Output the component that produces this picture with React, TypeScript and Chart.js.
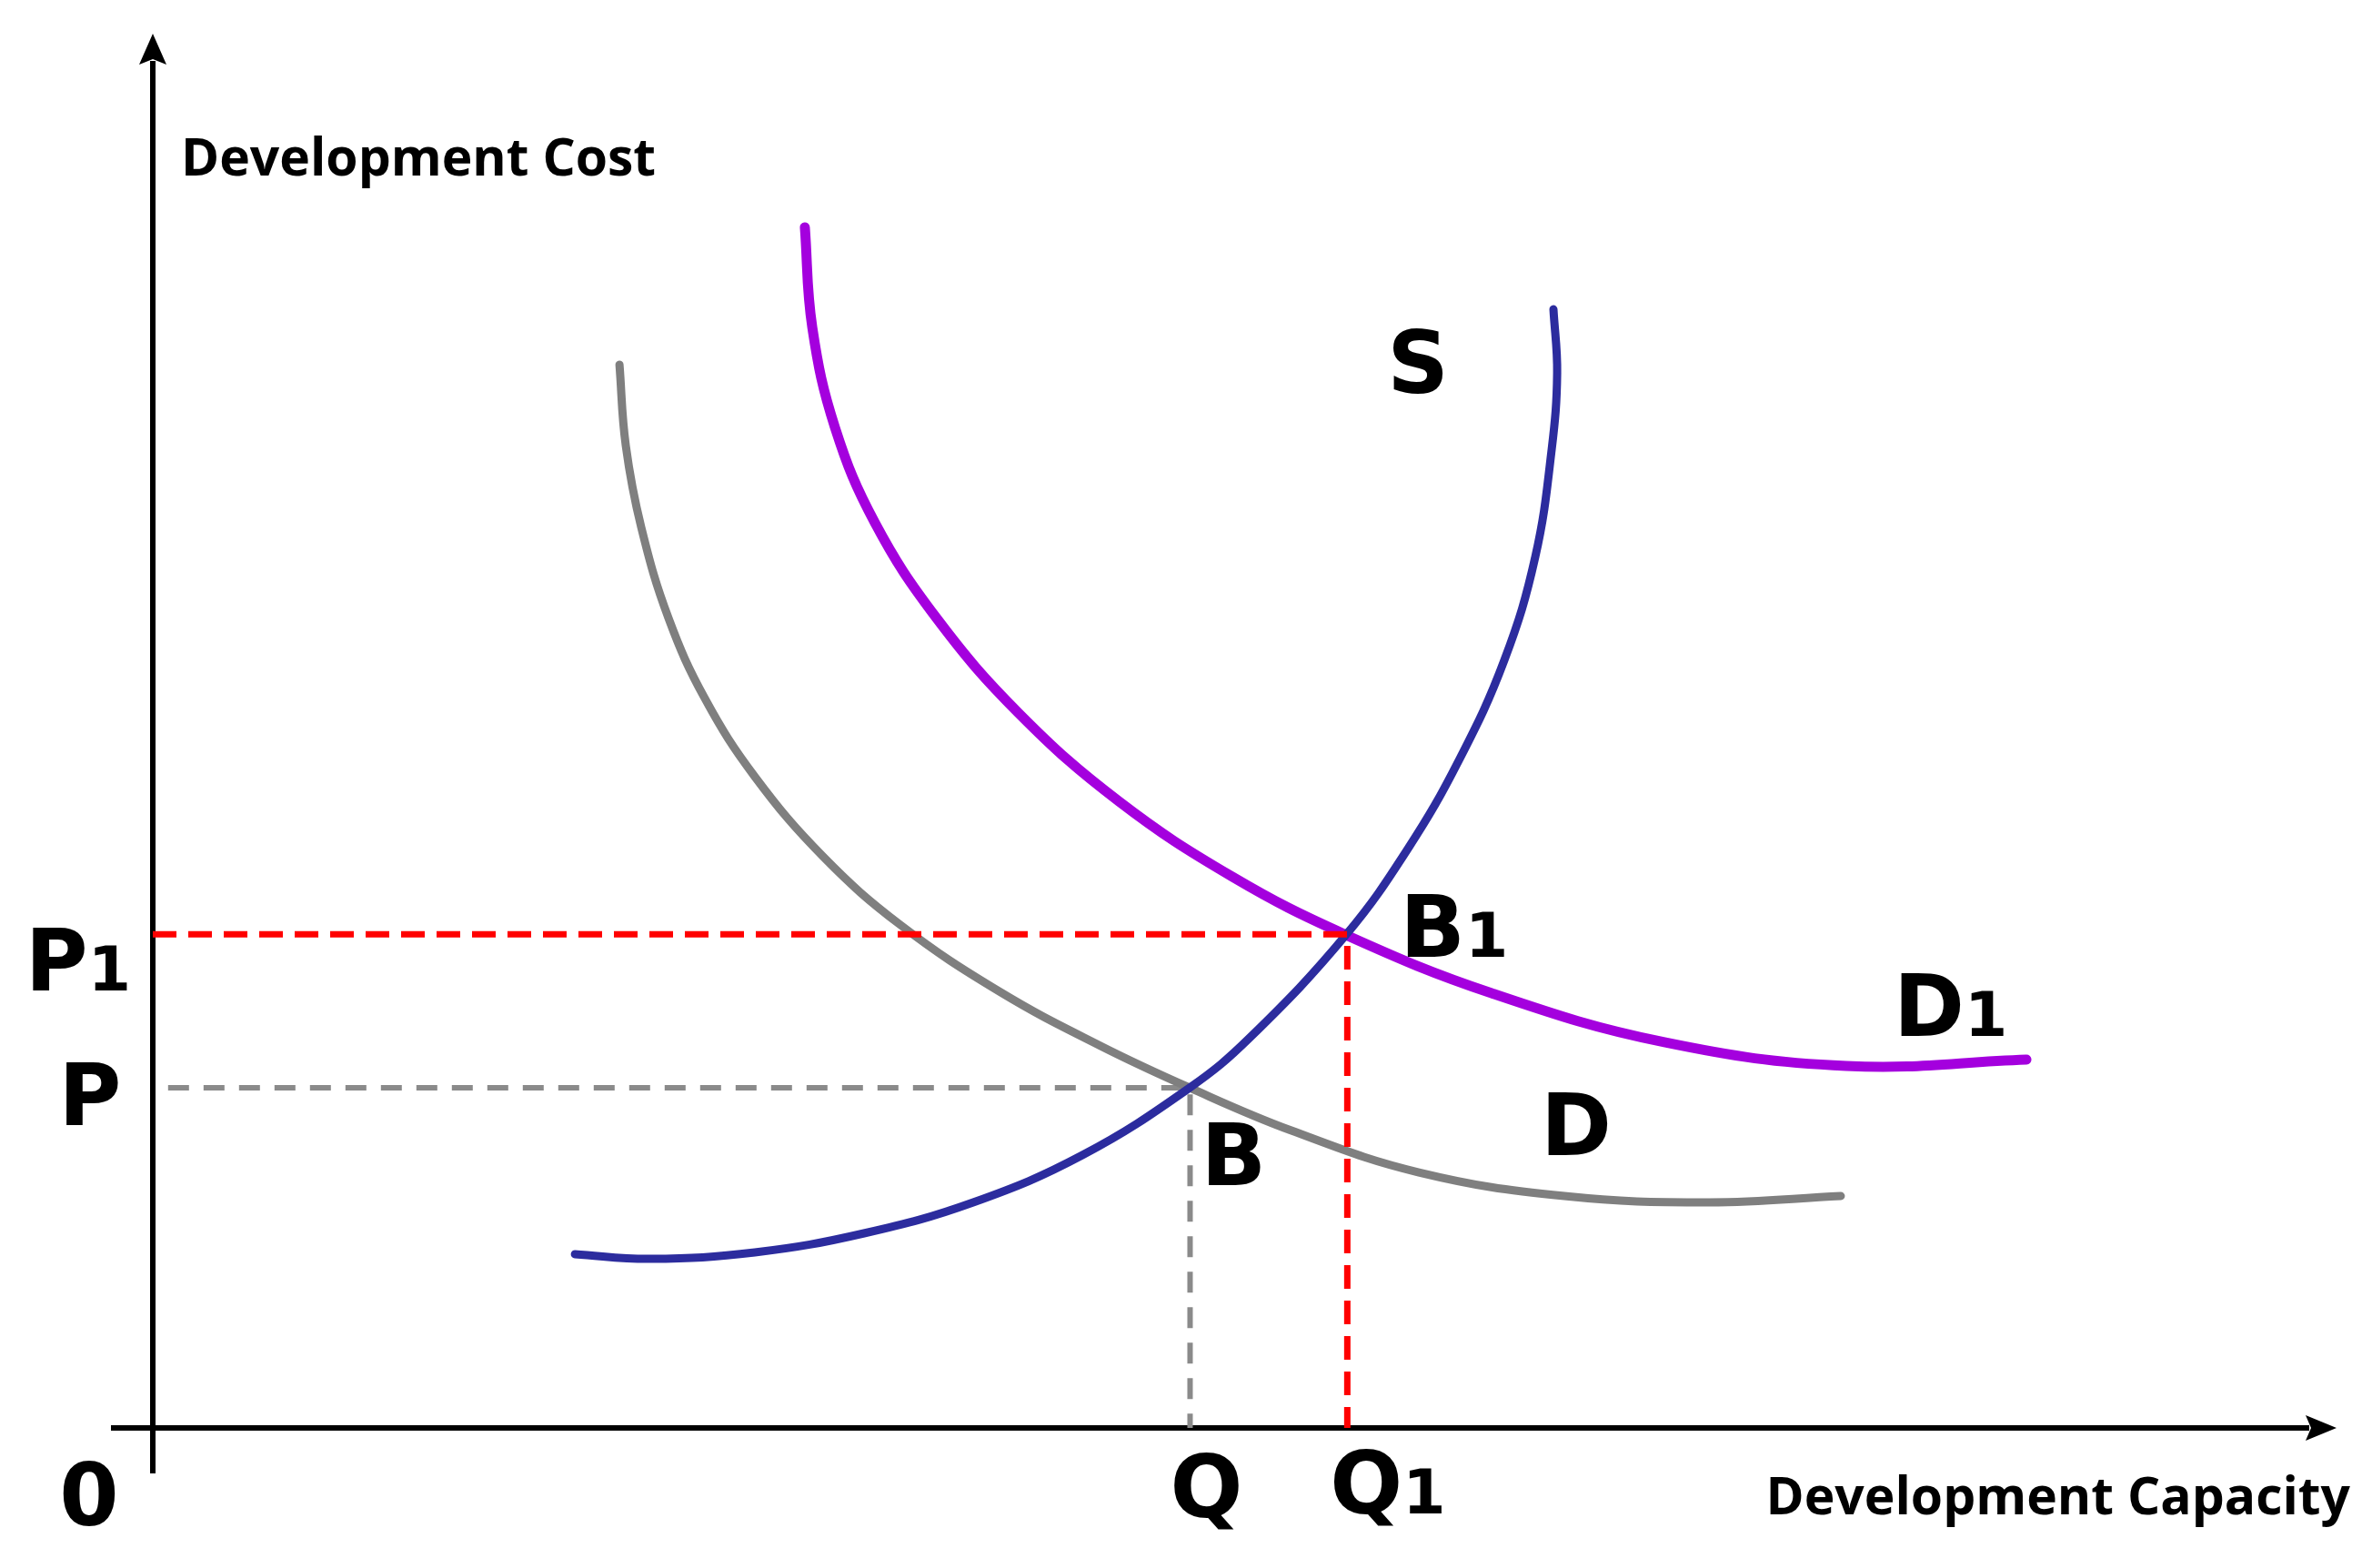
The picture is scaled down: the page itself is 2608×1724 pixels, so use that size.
import React, { useEffect, useRef } from "react";
import { Chart, registerables } from "chart.js";

Chart.register(...registerables);

const CANVAS_W = 2608;
const CANVAS_H = 1724;

// Supply curve S  (x: Development Capacity, y: Development Cost)
const supplyX = [19.33, 22.78, 27.57, 32.57, 37.57, 42.57, 47.48, 50.23, 54.64, 57.48, 59.81, 61.89, 63.31, 64.06, 64.31, 64.14];
const supplyY = [12.46, 12.13, 12.59, 13.96, 16.18, 19.57, 24.4, 27.98, 35.36, 41.55, 47.88, 55.06, 62.49, 70.19, 75.67, 80.23];

// Demand curve D
const demandX = [21.37, 21.66, 22.37, 23.62, 25.28, 27.57, 30.7, 34.24, 38.82, 43.4, 47.48, 52.14, 57.98, 64.64, 71.3, 77.3];
const demandY = [76.26, 70.45, 64.58, 58.06, 52.32, 46.71, 40.97, 36.07, 31.25, 27.4, 24.4, 21.33, 18.33, 16.63, 16.18, 16.63];

// Shifted demand curve D1
const demand1X = [29.86, 30.2, 31.24, 33.07, 35.9, 39.65, 44.23, 49.44, 54.64, 61.31, 69.22, 77.55, 85.8];
const demand1Y = [86.11, 78.93, 71.75, 64.91, 58.06, 51.27, 44.95, 39.53, 35.36, 31.18, 27.66, 25.96, 26.42];

// Equilibria
const eqQ = 47.5;
const eqP = 24.4;
const eqQ1 = 54.7;
const eqP1 = 35.4;

// Text
const yAxisTitle = "Development Cost";
const xAxisTitle = "Development Capacity";
const curveLabels = ["S", "D", "D", "1"];

const BIG = 'bold 94px "DejaVu Sans"';
const SUB = 'bold 68px "DejaVu Sans"';
const TITLE = 'bold 57px "Open Sans"';

const zip = (xs: number[], ys: number[]) => xs.map((x, i) => ({ x, y: ys[i] }));

function put(ctx: CanvasRenderingContext2D, main: string, sub: string, x: number, base: number, align: string) {
  ctx.font = BIG;
  const w1 = ctx.measureText(main).width;
  ctx.font = SUB;
  const w2 = sub ? ctx.measureText(sub).width : 0;
  const total = w1 + w2;
  const left = align === "center" ? x - total / 2 : align === "right" ? x - total : x;
  ctx.textAlign = "left";
  ctx.textBaseline = "alphabetic";
  ctx.font = BIG;
  ctx.fillText(main, left, base);
  if (sub) {
    ctx.font = SUB;
    ctx.fillText(sub, left + w1, base);
  }
}

const decorPlugin = {
  id: "decor",
  beforeDatasetsDraw(chart: any) {
    const { ctx } = chart;
    const xs = chart.scales.x;
    const ys = chart.scales.y;
    const x0 = xs.getPixelForValue(0);
    const y0 = ys.getPixelForValue(0);
    const xEnd = xs.getPixelForValue(100);
    const yEnd = ys.getPixelForValue(100);
    ctx.save();
    ctx.strokeStyle = "#000";
    ctx.fillStyle = "#000";
    ctx.lineWidth = 6;
    ctx.lineCap = "butt";
    ctx.beginPath();
    ctx.moveTo(x0, y0 + 50);
    ctx.lineTo(x0, yEnd + 30);
    ctx.stroke();
    ctx.beginPath();
    ctx.moveTo(x0 - 46, y0);
    ctx.lineTo(xEnd - 30, y0);
    ctx.stroke();
    // arrow heads
    ctx.beginPath();
    ctx.moveTo(x0, yEnd);
    ctx.lineTo(x0 - 15, yEnd + 34);
    ctx.lineTo(x0, yEnd + 28);
    ctx.lineTo(x0 + 15, yEnd + 34);
    ctx.closePath();
    ctx.fill();
    ctx.beginPath();
    ctx.moveTo(xEnd, y0);
    ctx.lineTo(xEnd - 34, y0 - 14);
    ctx.lineTo(xEnd - 28, y0);
    ctx.lineTo(xEnd - 34, y0 + 14);
    ctx.closePath();
    ctx.fill();
    ctx.restore();
  },
  afterDatasetsDraw(chart: any) {
    const { ctx } = chart;
    const xs = chart.scales.x;
    const ys = chart.scales.y;
    const px = (v: number) => xs.getPixelForValue(v);
    const py = (v: number) => ys.getPixelForValue(v);
    const x0 = px(0);
    const y0 = py(0);
    const xEnd = px(100);
    const yEnd = py(100);
    ctx.save();
    ctx.fillStyle = "#000";
    // axis titles
    ctx.font = TITLE;
    ctx.textBaseline = "alphabetic";
    ctx.textAlign = "left";
    ctx.fillText(yAxisTitle, x0 + 31, yEnd + 156);
    ctx.textAlign = "right";
    ctx.fillText(xAxisTitle, xEnd + 15, y0 + 95);

    // origin & tick-like labels
    put(ctx, "0", "", x0 - 70, y0 + 107, "center");
    put(ctx, "P", "1", x0 - 24, py(eqP1) + 62, "right");
    put(ctx, "P", "", x0 - 69, py(eqP) + 41, "center");
    put(ctx, "Q", "", px(eqQ) + 18, y0 + 98, "center");
    put(ctx, "Q", "1", px(eqQ1) - 19, y0 + 94, "left");
    // points
    put(ctx, "B", "", px(eqQ) + 12, py(eqP) + 107, "left");
    put(ctx, "B", "1", px(eqQ1) + 58, py(eqP1) + 25, "left");
    // curve labels
    const sN = supplyX.length - 1;
    put(ctx, curveLabels[0], "", px(supplyX[sN]) - 149, py(supplyY[sN]) + 92, "center");
    const dN = demandX.length - 1;
    put(ctx, curveLabels[1], "", px(demandX[dN]) - 330, py(demandY[dN]) - 45, "left");
    const d1N = demand1X.length - 1;
    put(ctx, curveLabels[2], curveLabels[3], px(demand1X[d1N]) - 146, py(demand1Y[d1N]) - 26, "left");
    ctx.restore();
  },
};

export default function App() {
  const ref = useRef<HTMLCanvasElement | null>(null);
  useEffect(() => {
    if (!ref.current) return;
    const curve = (label: string, xs: number[], ys: number[], color: string, width: number) => ({
      label,
      data: zip(xs, ys),
      showLine: true,
      borderColor: color,
      borderWidth: width,
      tension: 0.4,
      pointRadius: 0,
      borderCapStyle: "round",
      borderJoinStyle: "round",
      clip: false,
    });
    const chart = new Chart(ref.current, {
      type: "scatter",
      data: {
        datasets: [
          {
            label: "P1-Q1",
            data: [
              { x: 0, y: eqP1 },
              { x: eqQ1, y: eqP1 },
              { x: eqQ1, y: 0 },
            ],
            showLine: true,
            borderColor: "#ff0000",
            borderWidth: 7,
            borderDash: [26, 13],
            tension: 0,
            pointRadius: 0,
            clip: false,
          },
          curve("S", supplyX, supplyY, "#2c2c9e", 9),
          curve("D1", demand1X, demand1Y, "#a400de", 11),
          curve("D", demandX, demandY, "#7f7f7f", 9),
          {
            label: "P-Q",
            data: [
              { x: 0.7, y: eqP },
              { x: eqQ, y: eqP },
              { x: eqQ, y: 0 },
            ],
            showLine: true,
            borderColor: "#8a8a8a",
            borderWidth: 6,
            borderDash: [23, 16],
            tension: 0,
            pointRadius: 0,
            clip: false,
          },
        ],
      },
      options: {
        responsive: false,
        animation: false,
        events: [],
        layout: { padding: { left: 168, right: 39, top: 37, bottom: 154 } },
        scales: {
          x: { type: "linear", min: 0, max: 100, display: false },
          y: { type: "linear", min: 0, max: 100, display: false },
        },
        plugins: {
          legend: { display: false },
          tooltip: { enabled: false },
          title: { display: false },
        },
      },
      plugins: [decorPlugin],
    } as any);
    return () => chart.destroy();
  }, []);
  return (
    <div style={{ position: "absolute", left: 0, top: 0, width: CANVAS_W, height: CANVAS_H, background: "#fff" }}>
      <canvas ref={ref} width={CANVAS_W} height={CANVAS_H} style={{ width: CANVAS_W, height: CANVAS_H, display: "block" }} />
    </div>
  );
}
